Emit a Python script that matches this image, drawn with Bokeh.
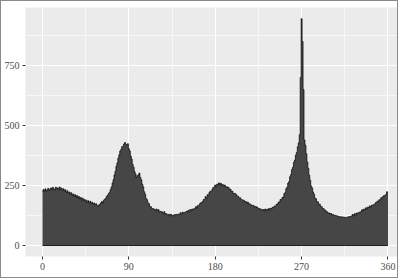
import numpy as np
from bokeh.plotting import figure
from bokeh.models import FixedTicker, Range1d
from bokeh.embed import file_html
from bokeh.resources import INLINE

# histogram counts per 1-degree bin (0..360)
degrees = list(range(0, 361))
counts = [
    224, 233, 227, 236, 226, 232, 238, 229, 235, 240,
    233, 242, 235, 231, 243, 236, 240, 233, 244, 235,
    239, 230, 236, 227, 232, 221, 228, 218, 223, 213,
    220, 209, 215, 205, 212, 201, 208, 198, 204, 194,
    200, 190, 197, 186, 192, 183, 189, 179, 186, 176,
    184, 174, 180, 171, 177, 168, 174, 166, 163, 170,
    172, 178, 183, 177, 189, 193, 197, 205, 209, 216,
    222, 233, 244, 260, 274, 294, 309, 330, 344, 364,
    378, 394, 400, 412, 413, 423, 429, 422, 420, 424,
    403, 394, 373, 360, 338, 326, 308, 298, 283, 291,
    294, 302, 284, 274, 256, 245, 224, 214, 196, 191,
    178, 174, 163, 162, 155, 154, 152, 151, 145, 152,
    143, 149, 140, 142, 141, 140, 134, 141, 131, 133,
    128, 129, 130, 123, 130, 124, 126, 127, 129, 128,
    130, 129, 131, 131, 137, 130, 139, 137, 138, 139,
    142, 141, 147, 139, 150, 145, 152, 151, 153, 155,
    162, 156, 167, 167, 174, 178, 179, 184, 192, 192,
    204, 196, 212, 212, 222, 226, 226, 234, 242, 243,
    252, 245, 256, 254, 261, 253, 259, 251, 254, 246,
    252, 244, 245, 243, 242, 234, 234, 226, 226, 217,
    217, 216, 212, 205, 205, 198, 199, 192, 191, 189,
    188, 182, 183, 176, 181, 173, 174, 168, 169, 166,
    167, 160, 162, 161, 159, 153, 154, 152, 151, 146,
    150, 144, 152, 145, 151, 148, 154, 147, 156, 154,
    160, 159, 165, 164, 172, 173, 181, 181, 192, 191,
    200, 202, 217, 220, 237, 243, 260, 266, 287, 296,
    317, 326, 347, 356, 377, 388, 412, 428, 462, 700,
    945, 850, 650, 440, 418, 382, 348, 322, 293, 272,
    248, 240, 223, 214, 198, 195, 183, 182, 173, 172,
    163, 162, 154, 154, 145, 147, 139, 140, 134, 135,
    133, 133, 127, 129, 124, 126, 124, 124, 119, 121,
    118, 120, 119, 119, 117, 118, 116, 117, 118, 120,
    120, 121, 122, 129, 123, 132, 126, 135, 134, 136,
    138, 140, 141, 149, 143, 152, 150, 157, 151, 160,
    158, 165, 159, 168, 168, 170, 170, 178, 178, 185,
    184, 191, 190, 200, 193, 205, 208, 209, 213, 224,
    220,
]
x_ticks = [0, 90, 180, 270, 360]
x_minor = [45, 135, 225, 315]
y_ticks = [0, 250, 500, 750]
y_minor = [125, 375, 625, 875]

FONT = "Liberation Sans Narrow"
FILL = "#464646"

p = figure(width=398, height=278, output_backend="svg", toolbar_location=None,
           x_range=Range1d(-17.7, 369.9), y_range=Range1d(-45.8, 991.7),
           min_border_left=23, min_border_right=2, min_border_top=6, min_border_bottom=23)
p.styles = {"border": "1px solid #8a8a8a"}
p.background_fill_color = "#EBEBEB"
p.border_fill_color = "white"
p.outline_line_color = None

p.varea_step(x=degrees, y1=0, y2=counts, step_mode="center", fill_color=FILL)
p.step(x=degrees, y=counts, mode="center", line_color="black", line_width=0.7)
p.line(x=[degrees[0], degrees[-1]], y=[0, 0], line_color="black", line_width=0.8)

p.xaxis.ticker = FixedTicker(ticks=x_ticks, minor_ticks=x_minor)
p.yaxis.ticker = FixedTicker(ticks=y_ticks, minor_ticks=y_minor)
p.xgrid.grid_line_color = "white"
p.ygrid.grid_line_color = "white"
p.xgrid.grid_line_width = 1.1
p.ygrid.grid_line_width = 1.1
p.xgrid.minor_grid_line_color = "white"
p.ygrid.minor_grid_line_color = "white"
p.xgrid.minor_grid_line_width = 0.6
p.ygrid.minor_grid_line_width = 0.6

for ax in (p.xaxis, p.yaxis):
    ax.axis_line_color = None
    ax.major_tick_line_color = "#333333"
    ax.major_tick_line_width = 1
    ax.major_tick_out = 3
    ax.major_tick_in = 0
    ax.minor_tick_line_color = None
    ax.major_label_text_color = "#4D4D4D"
    ax.major_label_text_font = FONT
    ax.major_label_text_font_size = "10px"
    ax.major_label_standoff = 2

open("out.html", "w").write(file_html(p, INLINE))
